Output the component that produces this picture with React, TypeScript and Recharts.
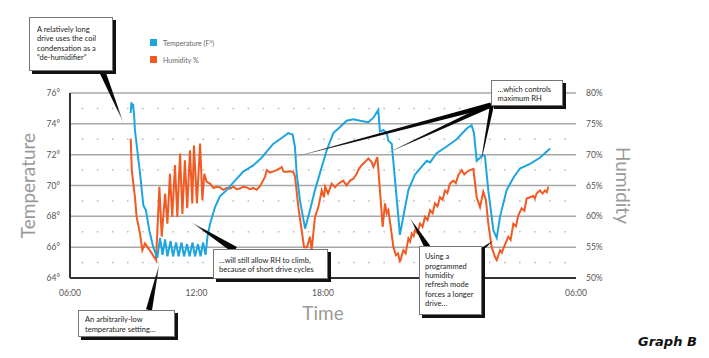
import React from "react";
import {
  LineChart,
  Line,
  XAxis,
  YAxis,
  CartesianGrid,
  ReferenceLine,
  Legend,
} from "recharts";

// hours since midnight (6 = 06:00, 30 = 06:00 next day), degrees F
const temperature: [number, number][] = [
  [8.88, 74.7], [8.91, 75.4], [8.95, 75.0], [8.99, 75.3], [9.04, 74.6], [9.08, 73.6],
  [9.32, 70.8], [9.48, 68.7], [9.6, 68.4], [9.76, 67.1], [9.95, 66.0], [10.14, 65.3],
  [10.27, 66.6], [10.39, 65.5], [10.51, 66.5], [10.62, 65.4], [10.77, 66.4], [10.89, 65.4],
  [11.03, 66.3], [11.15, 65.4], [11.29, 66.3], [11.41, 65.4], [11.55, 66.2], [11.67, 65.4],
  [11.81, 66.3], [11.93, 65.4], [12.07, 66.2], [12.19, 65.4], [12.31, 66.3], [12.43, 65.5],
  [12.52, 66.7], [12.64, 67.5], [12.88, 68.6], [13.11, 69.3], [13.43, 69.7], [13.75, 70.2],
  [14.22, 70.9], [14.69, 71.3], [15.09, 71.8], [15.33, 72.2], [15.64, 72.7], [15.96, 73.0],
  [16.35, 73.4], [16.56, 73.3], [16.67, 72.5], [16.75, 70.8], [16.91, 69.0], [17.15, 67.2],
  [17.38, 68.4], [17.62, 69.7], [17.94, 71.2], [18.18, 72.3], [18.49, 73.4], [18.81, 73.8],
  [19.12, 74.2], [19.44, 74.3], [19.76, 74.2], [20.15, 74.1], [20.39, 74.4], [20.62, 74.9],
  [20.7, 73.5], [20.86, 73.6], [21.02, 73.4], [21.1, 72.9], [21.26, 72.7], [21.42, 70.3],
  [21.65, 66.8], [21.81, 68.0], [22.05, 69.7], [22.36, 70.7], [22.6, 71.1], [22.92, 71.6],
  [23.08, 71.5], [23.39, 72.1], [23.83, 72.5], [24.34, 73.0], [24.82, 73.7], [25.05, 73.9],
  [25.16, 73.4], [25.29, 71.6], [25.45, 71.8], [25.58, 72.0], [25.68, 71.9], [25.84, 69.7],
  [26.08, 67.1], [26.24, 66.6], [26.4, 68.0], [26.71, 69.7], [27.03, 70.5], [27.34, 71.1],
  [27.82, 71.4], [28.29, 71.8], [28.77, 72.4],
];

// hours since midnight, relative humidity %
const humidity: [number, number][] = [
  [8.88, 72.6], [8.93, 67.5], [9.08, 63.1], [9.16, 59.9], [9.32, 57.2], [9.43, 54.5],
  [9.56, 55.6], [9.72, 54.8], [9.88, 54.0], [10.08, 52.9],
  [10.24, 64.8], [10.35, 56.7], [10.51, 63.7], [10.62, 58.8], [10.74, 66.9], [10.85, 59.9],
  [10.98, 68.3], [11.09, 59.9], [11.22, 70.2], [11.33, 60.4], [11.45, 69.1], [11.56, 61.3],
  [11.69, 70.7], [11.8, 62.1], [11.88, 71.5], [12.02, 62.1], [12.17, 71.8], [12.28, 62.6],
  [12.37, 66.9], [12.48, 65.6], [12.64, 65.3], [12.8, 64.6], [12.96, 64.8], [13.11, 64.7],
  [13.27, 64.3], [13.43, 64.6], [13.59, 64.5], [13.75, 64.8], [13.91, 64.4], [14.06, 64.5],
  [14.22, 64.8], [14.38, 64.7], [14.53, 64.4], [14.69, 64.6], [14.85, 64.3], [15.01, 64.9],
  [15.25, 66.4], [15.33, 67.5], [15.49, 67.1], [15.65, 67.3], [15.8, 67.5], [15.96, 67.8],
  [16.04, 68.0], [16.12, 67.3], [16.2, 67.2], [16.4, 67.3], [16.59, 67.2], [16.67, 66.5],
  [16.83, 61.5], [16.99, 57.7], [17.1, 55.0], [17.24, 55.0], [17.38, 56.7], [17.46, 54.5],
  [17.62, 59.9], [17.78, 61.5], [17.94, 64.2], [18.05, 63.1], [18.1, 64.8], [18.24, 63.7],
  [18.41, 65.3], [18.57, 64.7], [18.73, 65.3], [18.96, 65.8], [19.12, 65.0], [19.28, 65.8],
  [19.44, 66.1], [19.6, 66.9], [19.67, 67.5], [19.83, 68.3], [19.99, 68.8], [20.15, 69.4],
  [20.31, 68.8], [20.39, 68.0], [20.58, 69.6], [20.7, 64.2], [20.83, 58.3], [20.94, 62.1],
  [21.02, 60.5], [21.1, 61.0], [21.21, 58.3], [21.34, 55.0], [21.46, 53.7], [21.56, 54.0],
  [21.65, 52.6], [21.81, 54.5], [21.92, 54.0], [22.05, 56.4], [22.13, 55.9], [22.21, 57.2],
  [22.3, 56.8], [22.36, 57.7], [22.48, 57.3], [22.6, 58.8], [22.72, 58.3], [22.84, 59.9],
  [22.96, 59.4], [23.08, 61.0], [23.2, 60.5], [23.31, 62.1], [23.43, 61.6], [23.55, 63.1],
  [23.67, 62.7], [23.79, 64.2], [23.9, 63.8], [24.02, 65.3], [24.18, 65.8], [24.3, 65.4],
  [24.42, 66.7], [24.58, 67.5], [24.7, 66.8], [24.82, 67.2], [24.97, 67.5], [25.13, 67.7],
  [25.29, 63.1], [25.45, 61.5], [25.6, 64.0], [25.73, 62.6], [25.84, 58.8], [26.0, 55.0],
  [26.16, 53.4], [26.24, 52.9], [26.4, 54.5], [26.48, 54.1], [26.56, 54.8], [26.79, 56.7],
  [26.9, 56.2], [27.03, 58.8], [27.15, 58.4], [27.27, 60.2], [27.42, 61.3], [27.55, 60.9],
  [27.66, 62.9], [27.82, 63.1], [27.97, 63.3], [28.05, 62.9], [28.13, 63.7], [28.29, 64.2],
  [28.41, 63.7], [28.53, 64.2], [28.61, 63.9], [28.69, 64.8],
];

// the midnight label sits under the "refresh mode" note in the original, so it is left out
const timeTicks = [6, 12, 18, 30];
const tempTicks = [64, 66, 68, 70, 72, 74, 76];
const humTicks = [50, 55, 60, 65, 70, 75, 80];
const dottedRows = [65, 67, 69, 71, 73, 75];

const BLUE = "#1ea5e0";
const ORANGE = "#f15a22";

const tempData = temperature.map(([t, v]) => ({ t, v }));
const humData = humidity.map(([t, v]) => ({ t, v }));

const hhmm = (h: number) => `${String(h % 24).padStart(2, "0")}:00`;

const tickStyle = { fontSize: 8.5, fill: "#555", fontFamily: "Lato" };
const titleStyle = { fontSize: 19, fill: "#9a9a9a", fontFamily: "Lato" };

function LegendBox() {
  const items = [
    { color: BLUE, label: "Temperature (F°)" },
    { color: ORANGE, label: "Humidity %" },
  ];
  return (
    <div style={{ fontFamily: "Lato", fontSize: 7, color: "#666" }}>
      {items.map((it) => (
        <div key={it.label} style={{ display: "flex", alignItems: "center", height: 17 }}>
          <span style={{ width: 7, height: 7, background: it.color, marginRight: 6 }} />
          {it.label}
        </div>
      ))}
    </div>
  );
}

// tapered callout line, thick at the note, thin at the point it refers to
function Leader({ from, to, w = 5 }: { from: [number, number]; to: [number, number]; w?: number }) {
  const dx = to[0] - from[0];
  const dy = to[1] - from[1];
  const len = Math.hypot(dx, dy);
  const nx = (-dy / len) * (w / 2);
  const ny = (dx / len) * (w / 2);
  const id = `g${from[0]}${from[1]}${to[0]}${to[1]}`.replace(/\./g, "");
  return (
    <g>
      <defs>
        <linearGradient id={id} gradientUnits="userSpaceOnUse" x1={from[0]} y1={from[1]} x2={to[0]} y2={to[1]}>
          <stop offset="0" stopColor="#000" />
          <stop offset="0.7" stopColor="#111" />
          <stop offset="1" stopColor="#bbb" />
        </linearGradient>
      </defs>
      <polygon
        points={`${from[0] + nx},${from[1] + ny} ${from[0] - nx},${from[1] - ny} ${to[0]},${to[1]}`}
        fill={`url(#${id})`}
      />
    </g>
  );
}

function Note({
  x, y, w, h, pl, pt, lh, lines,
}: { x: number; y: number; w: number; h: number; pl: number; pt: number; lh: number; lines: string[] }) {
  return (
    <div
      style={{
        position: "absolute",
        left: x,
        top: y,
        width: w,
        height: h,
        boxSizing: "border-box",
        background: "#fff",
        border: "1px solid #777",
        boxShadow: "3px 3px 0 #111",
        paddingLeft: pl,
        paddingTop: pt,
        fontFamily: "Lato",
        fontSize: 7.5,
        lineHeight: `${lh}px`,
        color: "#222",
        whiteSpace: "nowrap",
      }}
    >
      {lines.map((l) => (
        <div key={l}>{l}</div>
      ))}
    </div>
  );
}

export default function App() {
  return (
    <div style={{ position: "absolute", left: 0, top: 0, width: 709, height: 358, background: "#fff" }}>
      <LineChart width={709} height={358} margin={{ top: 93, right: 73, bottom: 50, left: 10 }}>
        <CartesianGrid yAxisId="temp" vertical={false} stroke="#a8a8a8" strokeWidth={1.5} />
        {dottedRows.map((v) => (
          <ReferenceLine
            key={v}
            yAxisId="temp"
            y={v}
            stroke="#b8b8b8"
            strokeWidth={1.5}
            strokeDasharray="1.5 13.58"
            strokeDashoffset={3.3}
          />
        ))}
        <XAxis
          dataKey="t"
          type="number"
          domain={[6, 30]}
          ticks={timeTicks}
          tickFormatter={hhmm}
          allowDuplicatedCategory={false}
          height={30}
          tickSize={0}
          tickMargin={12}
          tick={tickStyle}
          axisLine={{ stroke: "#333", strokeWidth: 2 }}
          label={{ value: "Time", position: "center", dy: 20, style: titleStyle }}
        />
        <YAxis
          yAxisId="temp"
          orientation="left"
          domain={[64, 76]}
          ticks={tempTicks}
          tickFormatter={(v: number) => `${v}°`}
          width={60}
          tickSize={0}
          tickMargin={10}
          tick={tickStyle}
          axisLine={{ stroke: "#333", strokeWidth: 2 }}
          label={{ value: "Temperature", angle: -90, position: "center", dx: -12, style: titleStyle }}
        />
        <YAxis
          yAxisId="hum"
          orientation="right"
          domain={[50, 80]}
          ticks={humTicks}
          tickFormatter={(v: number) => `${v}%`}
          width={60}
          tickSize={0}
          tickMargin={10}
          tick={tickStyle}
          axisLine={false}
          label={{ value: "Humidity", angle: 90, position: "center", dx: 17, style: titleStyle }}
        />
        <Legend
          layout="vertical"
          align="center"
          verticalAlign="middle"
          wrapperStyle={{ left: 150, top: 34, width: 110 }}
          content={() => <LegendBox />}
        />
        <Line
          yAxisId="hum"
          data={humData}
          dataKey="v"
          type="linear"
          stroke={ORANGE}
          strokeWidth={2}
          dot={false}
          isAnimationActive={false}
        />
        <Line
          yAxisId="temp"
          data={tempData}
          dataKey="v"
          type="linear"
          stroke={BLUE}
          strokeWidth={2}
          dot={false}
          isAnimationActive={false}
        />
      </LineChart>

      <svg width={709} height={358} style={{ position: "absolute", left: 0, top: 0, pointerEvents: "none" }}>
        <Leader from={[102.5, 72]} to={[123.5, 123]} w={6} />
        <Leader from={[149, 310]} to={[159.5, 263]} w={6} />
        <Leader from={[235, 250]} to={[191, 222]} w={7} />
        <Leader from={[427.5, 247]} to={[410, 218]} w={6} />
        <Leader from={[481, 250]} to={[494, 240]} w={3} />
        <Leader from={[491, 105]} to={[283, 160]} w={5} />
        <Leader from={[491, 105]} to={[383, 155]} w={5} />
        <Leader from={[492, 105]} to={[480, 167]} w={4} />
      </svg>

      <Note x={29} y={17} w={84} h={54} pl={7} pt={6.5} lh={9.5}
        lines={["A relatively long", "drive uses the coil", "condensation as a", "\u201cde-humidifier\u201d"]} />
      <Note x={491} y={80} w={72} h={26} pl={5.5} pt={3.5} lh={9.4}
        lines={["\u2026which controls", "maximum RH"]} />
      <Note x={213} y={249} w={115} h={30} pl={5} pt={7} lh={8.8}
        lines={["\u2026will still allow RH to climb,", "because of short drive cycles"]} />
      <Note x={419} y={246} w={63} h={69} pl={5} pt={5.3} lh={9.35}
        lines={["Using a", "programmed", "humidity", "refresh mode", "forces a longer", "drive\u2026"]} />
      <Note x={78} y={310} w={97} h={27} pl={6} pt={4} lh={10}
        lines={["An arbitrarily-low", "temperature setting\u2026"]} />

      <div
        style={{
          position: "absolute",
          left: 638,
          top: 334,
          fontFamily: "DejaVu Sans",
          fontWeight: "bold",
          fontStyle: "italic",
          fontSize: 13,
          color: "#111",
        }}
      >
        Graph B
      </div>
    </div>
  );
}
